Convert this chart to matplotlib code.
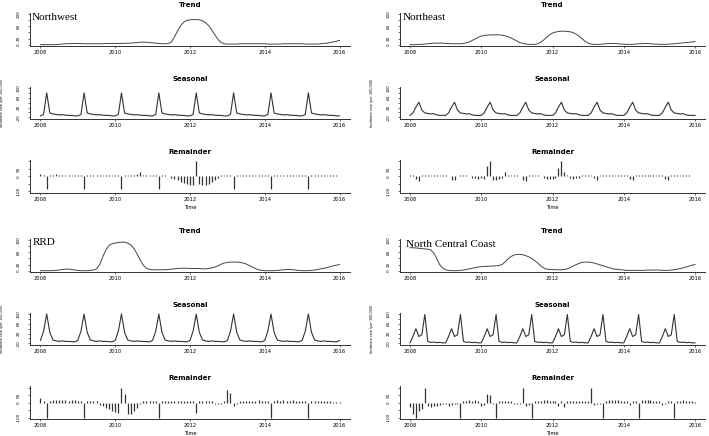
import numpy as np
import matplotlib
matplotlib.use('Agg')
import matplotlib.pyplot as plt

# monthly time axis, Jan 2008 .. Jan 2016
t = 2008 + np.arange(97) / 12.0

# ---- trend (monthly) ----
nw_trend = [0, 0, 0, 0, 0, 0, 1, 2, 3, 3, 4, 4,
            4, 4, 3, 3, 3, 3, 3, 3, 3, 4, 4, 4,
            4, 4, 4, 4, 5, 5, 6, 7, 8, 8, 8, 7,
            6, 5, 4, 3, 3, 4, 8, 25, 45, 62, 74, 79,
            81, 82, 82, 81, 78, 72, 62, 48, 32, 17, 7, 3,
            2, 2, 2, 2, 3, 3, 3, 3, 3, 3, 3, 3,
            3, 2, 2, 2, 2, 2, 3, 3, 3, 3, 3, 3,
            3, 2, 2, 2, 2, 2, 3, 4, 5, 7, 9, 11,
            14]
ne_trend = [0, 0, 0, 1, 1, 2, 3, 4, 5, 5, 5, 5,
            4, 4, 3, 3, 3, 3, 4, 6, 9, 14, 19, 24,
            28, 30, 31, 32, 32, 32, 32, 31, 29, 26, 22, 17,
            12, 7, 4, 2, 1, 1, 1, 3, 8, 15, 24, 32,
            38, 41, 43, 44, 44, 43, 42, 39, 34, 27, 19, 11,
            5, 2, 1, 1, 1, 2, 3, 4, 4, 4, 3, 2,
            2, 1, 1, 1, 2, 3, 3, 4, 4, 3, 2, 2,
            1, 1, 1, 2, 2, 3, 4, 5, 6, 7, 8, 9,
            10]
rrd_trend = [0, 0, 0, 0, 0, 1, 2, 4, 5, 5, 4, 2,
             1, 0, 0, 0, 1, 2, 6, 20, 45, 68, 82, 88,
             90, 92, 93, 93, 90, 84, 72, 55, 35, 18, 8, 4,
             3, 3, 3, 3, 3, 4, 5, 6, 7, 8, 8, 8,
             7, 7, 7, 7, 6, 6, 7, 9, 12, 16, 21, 25,
             27, 28, 28, 28, 27, 25, 22, 17, 12, 7, 3, 1,
             0, 0, 0, 0, 1, 2, 3, 4, 4, 3, 2, 1,
             0, 0, 0, 1, 2, 4, 6, 8, 10, 13, 16, 18,
             20]
ncc_trend = [75, 75, 74, 73, 72, 71, 70, 68, 58, 40, 20, 8,
             3, 1, 0, 0, 0, 1, 2, 4, 6, 8, 10, 12,
             13, 14, 14, 15, 15, 16, 17, 20, 28, 38, 46, 51,
             53, 53, 52, 49, 45, 40, 33, 25, 16, 9, 5, 4,
             4, 3, 3, 3, 4, 6, 10, 15, 20, 24, 27, 28,
             28, 27, 25, 22, 19, 16, 13, 10, 7, 5, 4, 3,
             2, 1, 1, 1, 1, 1, 1, 1, 2, 2, 2, 2,
             2, 1, 1, 1, 2, 3, 5, 7, 9, 12, 15, 18,
             20]

# ---- seasonal: periodic component, one year Jan..Dec ----
nw_season_year = [-14, -8, 80, -2, -6, -8, -10, -9, -11, -12, -12, -14]
ne_season_year = [-12, -2, 22, 42, 10, -2, -4, -6, -5, -10, -12, -12]
rrd_season_year = [-8, 30, 100, 25, -6, -10, -12, -10, -12, -12, -13, -14]
ncc_season_year = [-18, 8, 40, 8, 15, 98, -12, -16, -15, -17, -16, -18]

# ---- remainder (monthly) ----
nw_rem = [15, 12, -85, 8, 12, 15, 10, 9, 10, 9, 8, 9,
          9, 8, -85, 8, 9, 10, 9, 10, 9, 8, 9, 8,
          8, 9, -85, 9, 10, 12, 11, 14, 28, 10, 9, 8,
          9, 8, -85, 8, 7, 6, -8, -15, -25, -35, -45, -50,
          -55, -55, 100, -50, -60, -58, -50, -38, -22, -8, 9, 10,
          9, 10, -85, 9, 8, 10, 9, 10, 9, 8, 9, 8,
          9, 10, -85, 9, 10, 9, 9, 10, 11, 9, 8, 9,
          9, 10, -85, 9, 10, 9, 10, 9, 8, 9, 8, 7,
          6]
ne_rem = [12, 10, -15, -30, 8, 9, 9, 8, 9, 9, 10, 8,
          7, 6, -25, -22, 6, 7, 8, 7, 6, -10, -12, -15,
          -12, -15, 70, 100, -25, -22, -20, -10, 30, 9, 8, 7,
          7, 6, -25, -30, 7, 9, 8, 7, 6, -10, -15, -20,
          -18, -8, 55, 100, 30, 12, -8, -15, -12, -8, 7, 8,
          8, 7, -10, -25, 8, 9, 9, 8, 7, 9, 8, 7,
          8, 7, -15, -25, 9, 10, 9, 8, 9, 10, 9, 8,
          9, 8, -20, -25, 9, 8, 7, 8, 7, 8, 7, 6,
          5]
rrd_rem = [30, 10, -100, 8, 15, 20, 18, 15, 14, 12, 14, 15,
           12, 8, -100, 7, 8, 12, 8, -15, -25, -35, -45, -55,
           -65, -70, 100, 60, -75, -75, -55, -35, -10, 8, 10, 12,
           7, 8, -100, 8, 12, 12, 10, 10, 12, 12, 10, 11,
           10, 8, -70, 8, 10, 8, 8, 7, -8, -7, -8, 7,
           85, 65, -20, -10, 8, 9, 8, 8, 10, 12, 14, 10,
           8, 7, -100, 12, 14, 12, 14, 12, 13, 14, 12, 10,
           12, 8, -100, 12, 12, 10, 9, 8, 8, 7, 6, 6,
           5]
ncc_rem = [-30, -75, -100, -55, -40, 100, -25, -28, -25, -20, -15, -10,
           -10, -20, -15, -10, -8, -100, 10, 12, 14, 12, 14, 12,
           -20, -15, 60, 50, -8, -100, 8, 12, 10, 9, 8, -10,
           -12, -10, 100, -20, -15, -100, 8, 8, 12, 14, 15, 12,
           12, 10, -20, 8, -30, 8, 8, 9, 8, 8, 7, 8,
           10, 100, -15, -12, -10, -100, 12, 14, 14, 15, 14, 12,
           12, 10, -15, 9, 10, -100, 14, 15, 14, 14, 12, 10,
           10, -15, -10, 8, 10, -100, 12, 10, 14, 10, 8, 7,
           5]

regions = [
    ('Northwest', nw_trend, nw_season_year, nw_rem),
    ('Northeast', ne_trend, ne_season_year, ne_rem),
    ('RRD', rrd_trend, rrd_season_year, rrd_rem),
    ('North Central Coast', ncc_trend, ncc_season_year, ncc_rem),
]

W, H = 709, 436
LINE = '#333333'
XLIM = (2007.72, 2016.28)
years = [2008, 2010, 2012, 2014, 2016]

fig = plt.figure(figsize=(W / 100, H / 100), dpi=100)


def px_axes(x0, x1, y0, y1):
    return fig.add_axes([x0 / W, 1 - y1 / H, (x1 - x0) / W, (y1 - y0) / H])


def style(ax, yticks, ylabels, ylim):
    ax.set_xlim(*XLIM)
    ax.set_ylim(*ylim)
    for s in ('top', 'right'):
        ax.spines[s].set_visible(False)
    for s in ('left', 'bottom'):
        ax.spines[s].set_linewidth(0.7)
        ax.spines[s].set_color(LINE)
    ax.set_xticks(years)
    ax.set_xticklabels([str(y) for y in years], fontsize=3.7, family='DejaVu Sans')
    ax.set_yticks(yticks)
    ax.set_yticklabels(ylabels, fontsize=3, rotation=90, va='center', family='DejaVu Sans')
    ax.tick_params(axis='both', length=1.5, width=0.5, color=LINE)
    ax.tick_params(axis='x', pad=1.5)
    ax.tick_params(axis='y', pad=5)
    ax.patch.set_alpha(0)


def title(ax, txt, hpx):
    ax.text(0.5, 1 + 8 / hpx, txt, transform=ax.transAxes, ha='center', va='center',
            fontsize=5, fontweight='bold', family='DejaVu Sans')


cols = [(30, 350), (400, 705)]
rows = {'trend': (12.8, 45.9), 'seas': (86.8, 119.3), 'rem': (160.3, 192.7)}
label_pos = [(32, 19.5), (403, 19.5), (33, 245), (406, 246.5)]

for i, (name, trend, season_year, rem) in enumerate(regions):
    x0, x1 = cols[i % 2]
    dy = 226 * (i // 2)
    wpx = x1 - x0

    # trend
    y0, y1 = rows['trend']
    ax = px_axes(x0, x1, y0 + dy, y1 + dy)
    ax.plot(t, trend, color='#444444', lw=0.7)
    style(ax, [0, 20, 40, 60, 80, 100], ['0', '20', '', '60', '', '100'], (-4, 104))
    title(ax, 'Trend', y1 - y0)

    # seasonal (periodic component repeated each year)
    y0, y1 = rows['seas']
    ax = px_axes(x0, x1, y0 + dy, y1 + dy)
    seasonal = np.tile(season_year, 9)[:len(t)]
    ax.plot(t, seasonal, color=LINE, lw=0.8)
    style(ax, [-20, 0, 20, 40, 60, 80, 100], ['-20', '', '20', '', '60', '', '100'], (-28, 105))
    title(ax, 'Seasonal', y1 - y0)
    ax.yaxis.set_label_coords(-26 / wpx, 0.5)
    ax.set_ylabel('Incidence rate (per 100,000)', fontsize=2.4, family='DejaVu Sans')

    # remainder
    y0, y1 = rows['rem']
    ax = px_axes(x0, x1, y0 + dy, y1 + dy)
    ax.vlines(t, 0, rem, color=LINE, lw=0.9)
    style(ax, [-100, -50, 0, 50, 100], ['-100', '', '0', '50', ''], (-108, 108))
    title(ax, 'Remainder', y1 - y0)
    ax.text(0.5, -15 / (y1 - y0), 'Time', transform=ax.transAxes, ha='center', va='center',
            fontsize=3.7, family='DejaVu Sans')

    lx, ly = label_pos[i]
    fig.text(lx / W, 1 - ly / H, name, family='Liberation Serif', fontsize=8, va='baseline')

fig.savefig('out.png', dpi=100)
